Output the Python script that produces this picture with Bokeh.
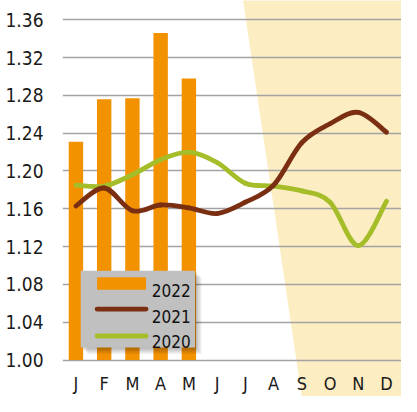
from bokeh.plotting import figure
from bokeh.models import Range1d, FixedTicker, NumeralTickFormatter, LabelSet, ColumnDataSource
from bokeh.core.properties import value
from bokeh.embed import file_html
from bokeh.resources import INLINE

# ---------------- data ----------------
months = ["J", "F", "M", "A", "M", "J", "J", "A", "S", "O", "N", "D"]
series_names = ["2022", "2021", "2020"]
values_2022 = [1.231, 1.276, 1.277, 1.346, 1.298]
values_2021 = [1.163, 1.182, 1.158, 1.164, 1.161, 1.155, 1.167, 1.185, 1.230, 1.250, 1.262, 1.241]
values_2020 = [1.185, 1.184, 1.196, 1.212, 1.220, 1.209, 1.187, 1.184, 1.179, 1.167, 1.121, 1.168]
y_ticks = [1.00, 1.04, 1.08, 1.12, 1.16, 1.20, 1.24, 1.28, 1.32, 1.36]

# ---------------- style ----------------
FONT_NAME = "'DejaVu Sans Condensed', 'Liberation Sans Narrow', Roboto, sans-serif"
FONT = value(FONT_NAME)
C2022 = "#F39200"
C2021 = "#7A2E12"
C2020 = "#A6BD2A"
SHADE = "#FDEDC2"
GRID = "#A3A3A3"

x_idx = list(range(len(months)))

p = figure(width=401, height=396,
           x_range=Range1d(-0.476, 11.53), y_range=Range1d(0.9614, 1.3804),
           x_axis_location=None, output_backend="svg", toolbar_location=None,
           min_border_left=62, min_border_right=0, min_border_top=0, min_border_bottom=0)
p.outline_line_color = None
p.background_fill_color = "white"
p.border_fill_color = "white"

# slanted cream background region (decorative)
y0, y1 = p.y_range.start, p.y_range.end
def edge_x(y):
    # edge runs from x=5.92 at the top to x=8.0 at the bottom of the frame
    return 5.92 + (y1 - y) / (y1 - y0) * (8.0 - 5.92)
p.patch(x=[edge_x(y1 + 0.01), 12.5, 12.5, edge_x(y0 - 0.01)],
        y=[y1 + 0.01, y1 + 0.01, y0 - 0.01, y0 - 0.01],
        fill_color=SHADE, line_color=None, level="image")

# axes / grid
p.yaxis.ticker = FixedTicker(ticks=y_ticks)
p.yaxis.formatter = NumeralTickFormatter(format="0.00")
p.yaxis.axis_line_color = None
p.yaxis.major_tick_line_color = None
p.yaxis.minor_tick_line_color = None
p.yaxis.major_tick_out = 0
p.yaxis.major_tick_in = 0
p.yaxis.major_label_standoff = 19
p.yaxis.major_label_text_font = FONT_NAME
p.yaxis.major_label_text_font_size = "19px"
p.yaxis.major_label_text_color = "#1a1a1a"
p.ygrid.ticker = FixedTicker(ticks=y_ticks)
p.ygrid.grid_line_color = GRID
p.ygrid.grid_line_width = 1.3
p.xgrid.grid_line_color = None

# bars 2022
p.vbar(x=x_idx[:len(values_2022)], top=values_2022, bottom=1.0, width=0.51,
       fill_color=C2022, line_color=None)

# smooth lines (Catmull-Rom segments drawn as Bezier curves)
def smooth(xs, ys):
    n = len(xs)
    out = dict(x0=[], y0=[], x1=[], y1=[], cx0=[], cy0=[], cx1=[], cy1=[])
    for i in range(n - 1):
        xm, ym = (xs[i - 1], ys[i - 1]) if i > 0 else (xs[i], ys[i])
        xp, yp = (xs[i + 2], ys[i + 2]) if i + 2 < n else (xs[i + 1], ys[i + 1])
        out["x0"].append(xs[i]); out["y0"].append(ys[i])
        out["x1"].append(xs[i + 1]); out["y1"].append(ys[i + 1])
        out["cx0"].append(xs[i] + (xs[i + 1] - xm) / 6)
        out["cy0"].append(ys[i] + (ys[i + 1] - ym) / 6)
        out["cx1"].append(xs[i + 1] - (xp - xs[i]) / 6)
        out["cy1"].append(ys[i + 1] - (yp - ys[i]) / 6)
    return out

for vals, col in ((values_2020, C2020), (values_2021, C2021)):
    p.bezier(**smooth(x_idx, vals), line_color=col, line_width=4.8, line_cap="round")

# month labels along the bottom (annotation, not clipped to the frame)
month_src = ColumnDataSource(dict(x=x_idx, y=[0.9680] * len(months), text=months))
p.add_layout(LabelSet(x="x", y="y", text="text", source=month_src,
                      text_font=FONT, text_font_size="18px", text_color="#1a1a1a",
                      text_align="center", text_baseline="alphabetic"))

# ---------------- legend (drawn by hand to match the box) ----------------
def rx(px):
    return (px - 78) / 29.4
def ry(py):
    return 1.0 + (374 - py) / 983.3

L, R, T, B = 83, 202, 281, 361
for k in range(1, 8):
    p.quad(left=rx(L + k), right=rx(R + k), top=ry(T + k), bottom=ry(B + k),
           fill_color="black", fill_alpha=0.045, line_color=None)
p.quad(left=rx(L), right=rx(R), top=ry(T), bottom=ry(B),
       fill_color="#C0C0C0", line_color=None)
p.quad(left=rx(100), right=rx(151), top=ry(288), bottom=ry(301),
       fill_color=C2022, line_color=None)
p.segment(x0=[rx(100), rx(100)], y0=[ry(321), ry(349)],
          x1=[rx(151), rx(151)], y1=[ry(321), ry(349)],
          line_color=[C2021, C2020], line_width=4.8, line_cap="round")
p.text(x=[rx(157)] * 3, y=[ry(302), ry(329), ry(355)], text=series_names,
       text_font=FONT, text_font_size="17px", text_color="#111111",
       text_align="left", text_baseline="alphabetic")

open("out.html", "w").write(file_html(p, INLINE))
